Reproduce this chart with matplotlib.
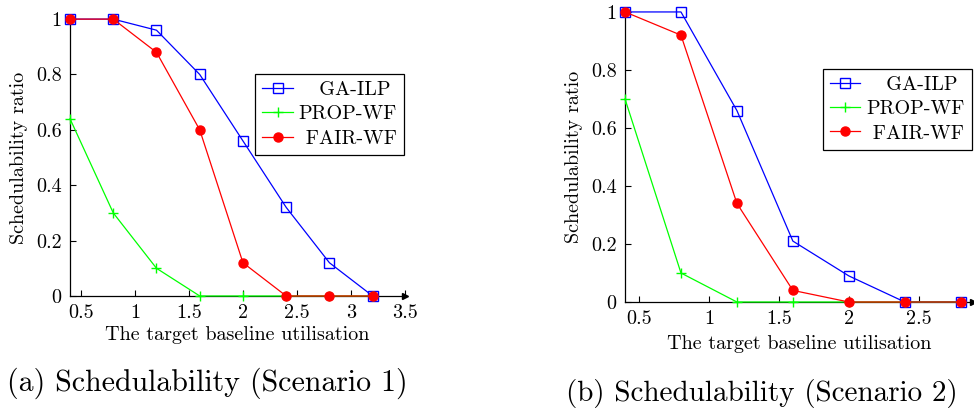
import matplotlib
matplotlib.use("Agg")
import matplotlib.pyplot as plt
from matplotlib.ticker import FuncFormatter

plt.rcParams['font.family'] = ['cmr10', 'DejaVu Serif']
plt.rcParams['axes.formatter.use_mathtext'] = True
plt.rcParams['axes.unicode_minus'] = False

# scenario 1
util_1 = [0.4, 0.8, 1.2, 1.6, 2.0, 2.4, 2.8, 3.2]
ga_ilp_1 = [1.0, 1.0, 0.96, 0.80, 0.56, 0.32, 0.12, 0.0]
prop_wf_1 = [0.64, 0.30, 0.10, 0.0, 0.0, 0.0, 0.0, 0.0]
fair_wf_1 = [1.0, 1.0, 0.88, 0.60, 0.12, 0.0, 0.0, 0.0]

# scenario 2
util_2 = [0.4, 0.8, 1.2, 1.6, 2.0, 2.4, 2.8]
ga_ilp_2 = [1.0, 1.0, 0.66, 0.21, 0.09, 0.0, 0.0]
prop_wf_2 = [0.70, 0.10, 0.0, 0.0, 0.0, 0.0, 0.0]
fair_wf_2 = [1.0, 0.92, 0.34, 0.04, 0.0, 0.0, 0.0]

xticks_1 = [0.5, 1, 1.5, 2, 2.5, 3, 3.5]
xticks_2 = [0.5, 1, 1.5, 2, 2.5]
yticks = [0, 0.2, 0.4, 0.6, 0.8, 1]

fs = 14.5


def draw(ax, x, ga, prop, fair, xlim, xticks, xpad):
    # leading spaces keep the legend texts roughly centred like pgfplots
    ax.plot(x, ga, color=(0, 0, 1), lw=0.9, marker='s', ms=6.5, mfc='none',
            mew=1.0, label='   GA-ILP', clip_on=False, zorder=3)
    ax.plot(x, prop, color=(0, 1, 0), lw=0.9, marker='+', ms=7, mew=1.0,
            label='PROP-WF', clip_on=False, zorder=3)
    ax.plot(x, fair, color=(1, 0, 0), lw=0.9, marker='o', ms=6.5,
            label=' FAIR-WF', clip_on=False, zorder=4)
    ax.set_xlim(*xlim)
    ax.set_ylim(0, 1)
    ax.set_xticks(xticks)
    ax.set_yticks(yticks)
    fmt = FuncFormatter(lambda v, p: '%g' % v)
    ax.xaxis.set_major_formatter(fmt)
    ax.yaxis.set_major_formatter(fmt)
    for s in ['top', 'right']:
        ax.spines[s].set_visible(False)
    for s in ['left', 'bottom']:
        ax.spines[s].set_linewidth(0.9)
    ax.tick_params(direction='in', length=4, width=0.8, labelsize=fs, pad=6)
    ax.plot([1], [0], marker='>', ms=4, color='black',
            transform=ax.transAxes, clip_on=False)
    ax.set_xlabel('The target baseline utilisation', fontsize=fs, labelpad=xpad)
    ax.set_ylabel('Schedulability ratio', fontsize=fs, labelpad=6)


fig = plt.figure(figsize=(9.74, 4.12), dpi=100)
ax1 = fig.add_axes([0.0719, 0.2816, 0.344, 0.672])
ax2 = fig.add_axes([0.6417, 0.267, 0.357, 0.704])

draw(ax1, util_1, ga_ilp_1, prop_wf_1, fair_wf_1, (0.4, 3.5), xticks_1, 3)
draw(ax2, util_2, ga_ilp_2, prop_wf_2, fair_wf_2, (0.4, 2.886), xticks_2, 5)

for ax, loc, anchor in [(ax1, 'upper right', (0.997, 0.801)),
                        (ax2, 'upper left', (0.569, 0.803))]:
    leg = ax.legend(loc=loc, bbox_to_anchor=anchor, fontsize=fs,
                    frameon=True, fancybox=False, framealpha=1,
                    edgecolor='black', borderaxespad=0, numpoints=1,
                    handlelength=1.5, handletextpad=0.3, labelspacing=0.3,
                    borderpad=0.35)
    leg.get_frame().set_linewidth(0.9)

fig.text(207 / 974, 1 - 383 / 412, '(a) Schedulability (Scenario 1)',
         ha='center', va='center', fontsize=21.5)
fig.text(762 / 974, 1 - 393 / 412, '(b) Schedulability (Scenario 2)',
         ha='center', va='center', fontsize=21)

fig.savefig('out.png', dpi=100)
